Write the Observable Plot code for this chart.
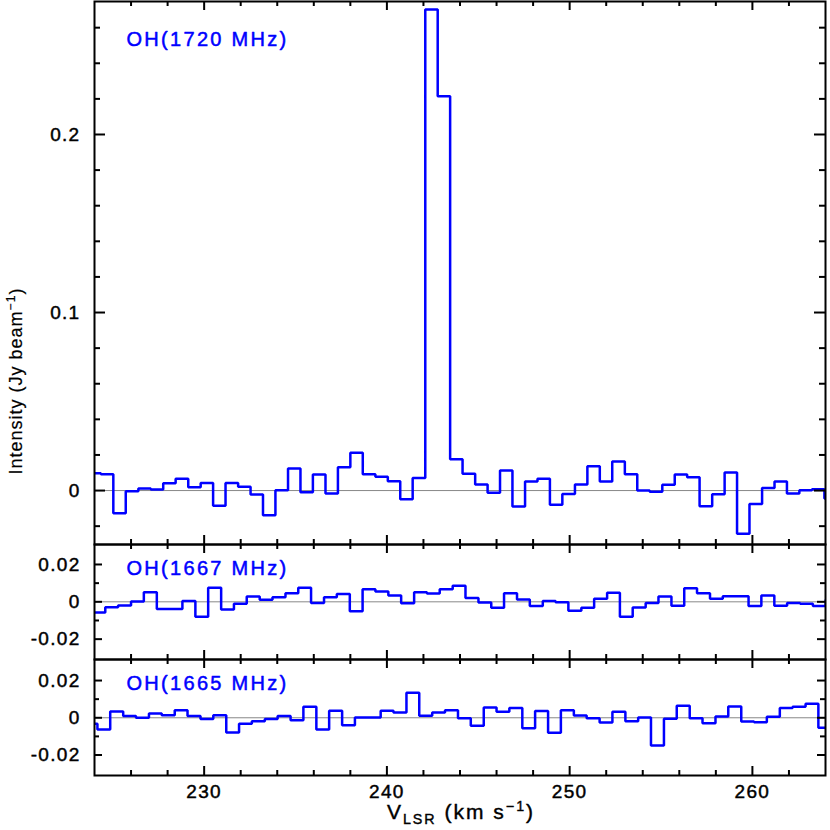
<!DOCTYPE html>
<html><head><meta charset="utf-8">
<script src="https://cdn.jsdelivr.net/npm/d3@7"></script>
<script src="https://cdn.jsdelivr.net/npm/@observablehq/plot@0.6"></script>
<style>
body{margin:0;background:#fff;}
#wrap{position:relative;width:830px;height:830px;font-family:"Liberation Sans",Arial,sans-serif;overflow:hidden;}
#wrap svg{display:block;}
#wrap svg text{letter-spacing:1.3px;}
#wrap svg g[aria-label*="axis"] text{stroke:black;stroke-width:0.45px;}
.ytitle{position:absolute;left:17px;top:381px;transform:translate(-50%,-50%) rotate(-90deg);font-size:18px;letter-spacing:1px;white-space:nowrap;line-height:18px;-webkit-text-stroke:0.2px black;}
.xtitle{position:absolute;left:461px;top:802px;transform:translateX(-50%);font-size:21px;letter-spacing:2px;white-space:nowrap;line-height:20px;-webkit-text-stroke:0.4px black;}
.sub{font-size:0.68em;position:relative;top:0.35em;}
.sup{font-size:0.68em;position:relative;top:-0.55em;}
</style></head>
<body><div id="wrap"></div>
<script>
// OH 1720 MHz: channel left edges (km/s) and intensities (Jy/beam)
const vel1720 = [223.67,224.35,225.03,225.71,226.40,227.08,227.76,228.44,229.13,229.81,230.49,231.17,231.86,232.54,233.22,233.90,234.59,235.27,235.95,236.64,237.32,238.00,238.68,239.37,240.05,240.73,241.41,242.10,242.78,243.46,244.14,244.83,245.51,246.19,246.87,247.56,248.24,248.92,249.60,250.29,250.97,251.65,252.33,253.02,253.70,254.38,255.07,255.75,256.43,257.11,257.80,258.48,259.16,259.84,260.53,261.21,261.89,262.57,263.26,263.94];
const int1720 = [0.0097,0.0092,-0.0127,-0.0004,0.0011,0.0006,0.0041,0.0066,0.0019,0.0043,-0.0086,0.0043,0.0022,-0.0022,-0.0139,0.0002,0.0124,-0.0009,0.009,-0.0017,0.0131,0.0212,0.0092,0.0077,0.0052,-0.0049,0.0071,0.2702,0.2215,0.0176,0.0094,0.0034,-0.0013,0.0112,-0.009,0.0051,0.0066,-0.008,-0.0019,0.0034,0.0137,0.0051,0.0163,0.0092,0,-0.0007,0.0032,0.009,0.0075,-0.0088,-0.0021,0.0101,-0.0243,-0.0075,0.0015,0.0051,-0.0017,0.0002,0.0007,-0.0045];

// OH 1667 MHz
const vel1667 = [223.89,224.59,225.29,226.00,226.70,227.41,228.11,228.81,229.52,230.22,230.93,231.63,232.33,233.04,233.74,234.45,235.15,235.85,236.56,237.26,237.97,238.67,239.37,240.08,240.78,241.49,242.19,242.89,243.60,244.30,245.01,245.71,246.41,247.12,247.82,248.53,249.23,249.93,250.64,251.34,252.05,252.75,253.45,254.16,254.86,255.57,256.27,256.97,257.68,258.38,259.09,259.79,260.49,261.20,261.90,262.61,263.31,264.01];
const int1667 = [-0.0057,-0.0029,-0.002,0.0002,0.0051,-0.0038,-0.0038,0.0004,-0.008,0.0076,-0.0041,-0.0011,0.0029,0.0011,0.0025,0.0046,0.0076,-0.0006,0.0025,0.0042,-0.005,0.0067,0.0055,0.0034,-0.0008,0.0051,0.0044,0.0067,0.0086,0.0021,-0.0004,-0.0032,0.0046,0.0013,-0.0023,0.0004,-0.0002,-0.0048,-0.0032,0.0017,0.0048,-0.008,-0.0031,-0.0006,0.0029,-0.0021,0.0073,0.0046,0.0016,0.003,0.003,-0.0023,0.0034,-0.0021,-0.0006,-0.0011,-0.0023,0.0011];

// OH 1665 MHz
const vel1665 = [223.46,224.16,224.86,225.57,226.27,226.98,227.68,228.39,229.09,229.80,230.50,231.21,231.91,232.61,233.32,234.02,234.73,235.43,236.14,236.84,237.55,238.25,238.95,239.66,240.36,241.07,241.77,242.48,243.18,243.89,244.59,245.30,246.00,246.70,247.41,248.11,248.82,249.52,250.23,250.93,251.64,252.34,253.05,253.75,254.45,255.16,255.86,256.57,257.27,257.98,258.68,259.39,260.09,260.79,261.50,262.20,262.91,263.61];
const int1665 = [-0.0032,-0.0063,0.0034,0.0009,0,0.0023,0.0014,0.0041,0.0009,-0.0007,0.0014,-0.0079,-0.0032,-0.0018,-0.0007,0.0009,-0.0013,0.0059,-0.0063,0.0038,-0.004,0.0002,0.0002,0.0038,0.0028,0.0134,0.0011,0.0028,0.0041,-0.0002,-0.0043,0.0055,0.0032,0.0052,-0.0056,0.0036,-0.0081,0.0041,0.0012,-0.0002,-0.0025,0.0032,-0.0018,0.0002,-0.0149,-0.0005,0.0065,-0.0002,-0.0029,0.0007,0.0061,-0.002,-0.0024,0.0005,0.0052,0.0059,0.0075,-0.0054];

const panelLabels = ["OH(1720 MHz)", "OH(1667 MHz)", "OH(1665 MHz)"];
const xLabelTicks = [230, 240, 250, 260];
const xMajorTicks = [230, 240, 250, 260];
const xMinorTicks = [226, 228, 232, 234, 236, 238, 242, 244, 246, 248, 252, 254, 256, 258, 262];
const yTicksTop = [0, 0.1, 0.2];
const yMinorTop = [-0.02, 0.02, 0.04, 0.06, 0.08, 0.12, 0.14, 0.16, 0.18, 0.22, 0.24, 0.26];
const yTicksSub = [-0.02, 0, 0.02];
const yMinorSub = [-0.01, 0.01];

const ML = 94, MR = 5, WIDTH = 830;
const FW = WIDTH - ML - MR;

function steps(edges, values) {
  const pts = [];
  edges.forEach((l, i) => {
    const r = i < edges.length - 1 ? edges[i + 1] : l + (l - edges[i - 1]);
    pts.push({v: l, t: values[i]}, {v: r, t: values[i]});
  });
  return pts;
}

function panel({edges, values, label, yDomain, height, marginBottom, yTicks, yMajor, yMinor, fmt, majLen, minLen, labelDy, xAxis}) {
  const FH = height - 1 - marginBottom;
  const tk = {stroke: "black", strokeWidth: 2};
  const marks = [
    Plot.ruleY([0], {stroke: "#888", strokeWidth: 1}),
    Plot.line(steps(edges, values), {x: "v", y: "t", stroke: "#0000ff", strokeWidth: 2.5, clip: true, strokeLinejoin: "miter"}),
    Plot.tickY(yMajor, {y: d => d, insetRight: FW - majLen, ...tk}),
    Plot.tickY(yMajor, {y: d => d, insetLeft: FW - majLen, ...tk}),
    Plot.tickY(yMinor, {y: d => d, insetRight: FW - minLen, ...tk}),
    Plot.tickY(yMinor, {y: d => d, insetLeft: FW - minLen, ...tk}),
    Plot.tickX(xMajorTicks, {x: d => d, insetBottom: FH - 9, ...tk}),
    Plot.tickX(xMajorTicks, {x: d => d, insetTop: FH - 9, ...tk}),
    Plot.tickX(xMinorTicks, {x: d => d, insetBottom: FH - 5, ...tk}),
    Plot.tickX(xMinorTicks, {x: d => d, insetTop: FH - 5, ...tk}),
    Plot.frame({stroke: "black", strokeWidth: 2}),
    Plot.text([label], {frameAnchor: "top-left", dx: 32, dy: labelDy, fill: "#0000ff", stroke: "#0000ff", strokeWidth: 0.5, fontSize: 20, text: d => d, style: "letter-spacing:2.3px"})
  ];
  const svg = Plot.plot({
    width: WIDTH, height, marginLeft: ML, marginRight: MR, marginTop: 1, marginBottom,
    style: {fontFamily: "Liberation Sans, Arial, sans-serif", fontSize: "19px", background: "transparent", overflow: "visible", color: "black"},
    x: xAxis
      ? {domain: [224, 264], axis: "bottom", ticks: xLabelTicks, tickSize: 0, tickPadding: 9, tickFormat: d => String(d), label: null}
      : {domain: [224, 264], axis: null},
    y: {domain: yDomain, ticks: yTicks, tickSize: 0, tickPadding: 14, tickFormat: fmt, label: null},
    marks
  });
  svg.querySelectorAll("text").forEach(t => {
    if (t.textContent.startsWith("OH(")) t.style.letterSpacing = "2.3px";
  });
  return svg;
}

const fmtTop = d => d === 0 ? "0" : d.toFixed(1);
const fmtSub = d => d === 0 ? "0" : (d < 0 ? "-" : "") + Math.abs(d).toFixed(2);

const wrap = document.getElementById("wrap");
const p1 = panel({edges: vel1720, values: int1720, label: panelLabels[0], yDomain: [-0.0303, 0.2747], height: 545, marginBottom: 1,
  yTicks: yTicksTop, yMajor: yTicksTop, yMinor: yMinorTop, fmt: fmtTop, majLen: 11, minLen: 6, labelDy: 30, xAxis: false});
const p2 = panel({edges: vel1667, values: int1667, label: panelLabels[1], yDomain: [-0.0309, 0.0307], height: 117, marginBottom: 1,
  yTicks: yTicksSub, yMajor: yTicksSub, yMinor: yMinorSub, fmt: fmtSub, majLen: 8, minLen: 5, labelDy: 16, xAxis: false});
const p3 = panel({edges: vel1665, values: int1665, label: panelLabels[2], yDomain: [-0.031, 0.0313], height: 172, marginBottom: 55,
  yTicks: yTicksSub, yMajor: yTicksSub, yMinor: yMinorSub, fmt: fmtSub, majLen: 8, minLen: 5, labelDy: 16, xAxis: true});
p2.style.marginTop = "-2px";
p3.style.marginTop = "-2px";
wrap.append(p1, p2, p3);

const yt = document.createElement("div");
yt.className = "ytitle";
yt.innerHTML = 'Intensity (Jy beam<span class="sup">\u22121</span>)';
wrap.append(yt);
const xt = document.createElement("div");
xt.className = "xtitle";
xt.innerHTML = 'V<span class="sub">LSR</span> (km s<span class="sup">\u22121</span>)';
wrap.append(xt);
</script>
</body></html>
